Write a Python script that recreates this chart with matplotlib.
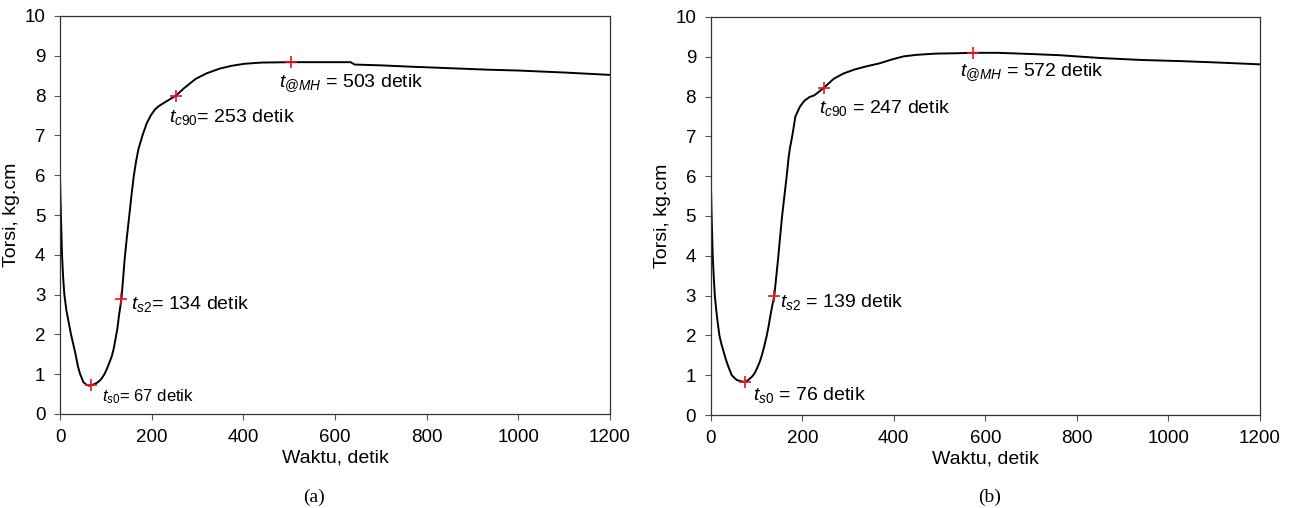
import matplotlib
matplotlib.use("Agg")
import matplotlib.pyplot as plt

plt.rcParams['font.family'] = ['Liberation Sans', 'DejaVu Sans']
plt.rcParams['mathtext.fontset'] = 'custom'
plt.rcParams['mathtext.rm'] = 'Liberation Sans'
plt.rcParams['mathtext.it'] = 'Liberation Sans:italic'

# Curve (a)
time_a = [0, 2, 4.4, 7, 9.5, 14, 19, 24, 29, 34, 39, 44, 51, 58, 64, 67, 75, 83, 90, 97, 103, 108, 113,
          117, 121, 125, 129, 134, 137, 141, 146, 151, 156, 161, 166, 171, 180, 189, 198, 207, 216, 230,
          253, 270, 296, 320, 349, 375, 403, 440, 503, 560, 634, 643, 700, 758, 847, 936, 1000, 1100, 1200]
torque_a = [5.94, 5.0, 4.0, 3.4, 3.0, 2.6, 2.3, 2.0, 1.75, 1.5, 1.2, 1.0, 0.8, 0.73, 0.71, 0.72, 0.75, 0.8,
            0.88, 1.0, 1.15, 1.3, 1.45, 1.63, 1.88, 2.13, 2.5, 2.88, 3.3, 3.88, 4.45, 4.97, 5.5, 5.98, 6.35,
            6.65, 7.0, 7.3, 7.5, 7.65, 7.74, 7.84, 8.0, 8.18, 8.42, 8.56, 8.68, 8.75, 8.8, 8.83, 8.84, 8.84,
            8.84, 8.78, 8.76, 8.73, 8.69, 8.65, 8.63, 8.58, 8.52]

# Curve (b)
time_b = [0, 2, 4.4, 6.5, 9, 12, 15, 19, 23, 28, 33, 39, 46, 52, 57, 65, 76, 82, 90, 96, 101, 107, 112,
          117, 122, 126, 130, 134, 139, 143, 147, 151, 156, 161, 166, 170, 173, 178, 185, 195, 205, 216,
          226, 234, 247, 269, 290, 314, 340, 367, 395, 421, 450, 492, 540, 572, 628, 700, 762, 851, 941,
          1031, 1100, 1200]
torque_b = [6.1, 5.0, 4.0, 3.5, 3.0, 2.65, 2.35, 2.0, 1.8, 1.6, 1.4, 1.2, 1.0, 0.93, 0.88, 0.85, 0.83, 0.88,
            0.96, 1.05, 1.17, 1.33, 1.51, 1.73, 1.97, 2.2, 2.47, 2.72, 3.0, 3.45, 3.9, 4.4, 5.0, 5.5, 6.0,
            6.45, 6.7, 7.0, 7.5, 7.75, 7.9, 7.99, 8.03, 8.1, 8.22, 8.45, 8.58, 8.68, 8.76, 8.83, 8.93, 9.01,
            9.05, 9.08, 9.09, 9.1, 9.1, 9.07, 9.04, 8.97, 8.92, 8.89, 8.86, 8.81]

# Marked points
marks_a_t = [67, 134, 253, 503]
marks_a_y = [0.72, 2.88, 8.0, 8.84]
marks_b_t = [76, 139, 247, 572]
marks_b_y = [0.83, 3.0, 8.22, 9.1]

labels_a = [r'$t_{\mathit{s0}}$= 67 detik', r'$t_{\mathit{s2}}$= 134 detik',
            r'$t_{\mathit{c90}}$= 253 detik', r'$t_{\mathit{@MH}}$ = 503 detik']
labels_b = [r'$t_{\mathit{s0}}$ = 76 detik', r'$t_{\mathit{s2}}$ = 139 detik',
            r'$t_{\mathit{c90}}$ = 247 detik', r'$t_{\mathit{@MH}}$ = 572 detik']
label_pos_a = [(91, 0.44), (154, 2.77), (238, 7.46), (478, 8.31)]
label_pos_b = [(92, 0.5), (152, 2.85), (236, 7.72), (545, 8.62)]
label_size_a = [12, 14, 14, 14]
label_size_b = [14, 14, 14, 14]

fig = plt.figure(figsize=(12.94, 5.08), dpi=100)
ax1 = fig.add_axes([60 / 1294, 1 - 414 / 508, 550 / 1294, 398 / 508])
ax2 = fig.add_axes([710.7 / 1294, 1 - 415 / 508, 549.3 / 1294, 398 / 508])

panels = [
    (ax1, time_a, torque_a, marks_a_t, marks_a_y, labels_a, label_pos_a, label_size_a, '(a)', 314),
    (ax2, time_b, torque_b, marks_b_t, marks_b_y, labels_b, label_pos_b, label_size_b, '(b)', 990),
]
for ax, t, y, mt, my, labs, lpos, lsz, cap, capx in panels:
    ax.plot(t, y, color='black', lw=1.4)
    ax.plot(mt, my, linestyle='none', marker='+', color='#e8141c', markersize=8, markeredgewidth=1.2)
    for lab, (lx, ly), s in zip(labs, lpos, lsz):
        ax.text(lx, ly, lab, fontsize=s, va='center', ha='left')
    ax.set_xlim(0, 1200)
    ax.set_ylim(0, 10)
    ax.set_xticks(range(0, 1201, 200))
    ax.set_yticks(range(0, 11, 1))
    ax.tick_params(direction='out', length=4.5, pad=6, labelsize=13.5, width=0.8,
                   colors='#555555', labelcolor='black')
    for sp in ax.spines.values():
        sp.set_linewidth(0.9)
        sp.set_color('#333333')
    ax.set_xlabel('Waktu, detik', fontsize=14)
    ax.set_ylabel('Torsi, kg.cm', fontsize=14)
    ax.xaxis.set_label_coords(0.5, -0.09)
    ax.yaxis.set_label_coords(-0.072, 0.5)
    ax.xaxis.label.set_va('top')
    fig.text(capx / 1294, 1 - 497 / 508, cap, ha='center', va='center',
             fontsize=14, family=['Liberation Serif', 'DejaVu Serif'])

fig.savefig('out.png', dpi=100)
